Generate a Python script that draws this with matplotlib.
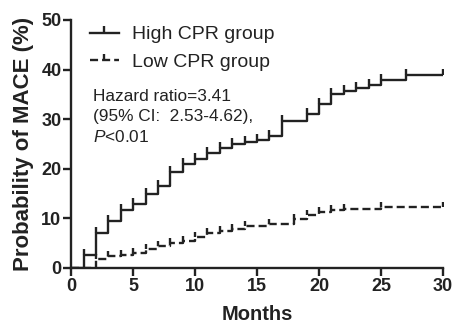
import matplotlib
matplotlib.use("Agg")
import matplotlib.pyplot as plt
from matplotlib.lines import Line2D

# ── data ────────────────────────────────────────────────────────────────────
HIGH_T = [0, 1, 2, 3, 4, 5, 6, 7, 8, 9, 10, 11, 12, 13, 14, 15, 16, 17,
          19, 20, 21, 22, 23, 24, 25, 27, 30]
HIGH_P = [0, 2.6, 7.0, 9.4, 11.6, 12.8, 14.9, 16.6, 19.3, 20.9, 22.0, 23.1,
          24.1, 24.9, 25.4, 25.8, 26.6, 29.7, 31.0, 33.1, 35.1, 35.7, 36.2,
          36.8, 37.8, 38.8, 38.8]

LOW_T = [0, 2, 3, 4, 5, 6, 7, 8, 9, 10, 11, 12, 13, 14, 16, 18, 19, 20, 21,
         22, 25, 30]
LOW_P = [0, 1.9, 2.4, 2.7, 3.1, 3.9, 4.5, 5.1, 5.4, 6.2, 7.0, 7.4, 7.8, 8.5,
         8.8, 9.9, 10.6, 11.2, 11.6, 11.8, 12.2, 12.2]

X_TICKS = [0, 5, 10, 15, 20, 25, 30]
Y_TICKS = [0, 10, 20, 30, 40, 50]
LABELS = ["High CPR group", "Low CPR group"]

INK = "#222222"
TICK_UP = [(0, 0), (0, 1)]  # censor mark pointing upward
LW = 1.7

plt.rcParams["font.family"] = ["Liberation Sans", "DejaVu Sans"]
plt.rcParams["mathtext.fontset"] = "custom"
plt.rcParams["mathtext.it"] = "Liberation Sans:italic"
plt.rcParams["mathtext.rm"] = "Liberation Sans"
plt.rcParams["lines.scale_dashes"] = False

fig = plt.figure(figsize=(4.53, 3.26), dpi=100)
ax = fig.add_axes([0.157, 0.178, 0.821, 0.761])

ax.plot(HIGH_T, HIGH_P, drawstyle="steps-post", color=INK, lw=LW)
ax.plot(HIGH_T[1:], HIGH_P[1:], ls="none", marker=TICK_UP, ms=8,
        mec=INK, mew=LW)

ax.plot(LOW_T, LOW_P, drawstyle="steps-post", color=INK, lw=LW,
        dashes=(5.8, 2.9))
ax.plot(LOW_T[1:], LOW_P[1:], ls="none", marker=TICK_UP, ms=6.5,
        mec=INK, mew=LW)

ax.set_xlim(0, 30)
ax.set_ylim(0, 50)
ax.set_xticks(X_TICKS)
ax.set_yticks(Y_TICKS)
ax.set_xticklabels([str(v) for v in X_TICKS], fontsize=13, fontweight="bold", color=INK)
ax.set_yticklabels([str(v) for v in Y_TICKS], fontsize=13, fontweight="bold", color=INK)
ax.tick_params(direction="out", length=6, width=LW, color=INK, pad=1)
for side in ("top", "right"):
    ax.spines[side].set_visible(False)
for side in ("left", "bottom"):
    ax.spines[side].set_linewidth(LW)
    ax.spines[side].set_color(INK)

ax.set_xlabel("Months", fontsize=14.5, fontweight="bold", color=INK, labelpad=7.5)
ax.set_ylabel("Probability of MACE (%)", fontsize=16, fontweight="bold",
              color=INK, labelpad=5)

handles = [
    Line2D([], [], color=INK, lw=LW, marker=TICK_UP, ms=10, mec=INK, mew=LW),
    Line2D([], [], color=INK, lw=LW, dashes=(5.8, 2.9), marker=TICK_UP, ms=8,
           mec=INK, mew=LW),
]
ax.legend(handles, LABELS, loc="upper left", bbox_to_anchor=(0.05, 0.976),
          frameon=False, fontsize=14, handlelength=1.5, handletextpad=0.7,
          labelspacing=0.5, borderpad=0, borderaxespad=0, labelcolor=INK)

ax.text(0.06, 0.72, "Hazard ratio=3.41\n(95% CI:  2.53-4.62),\n$\\it{P}$<0.01",
        transform=ax.transAxes, fontsize=12.4, color=INK, va="top", ha="left",
        linespacing=1.4)

fig.savefig("out.png", dpi=100)
